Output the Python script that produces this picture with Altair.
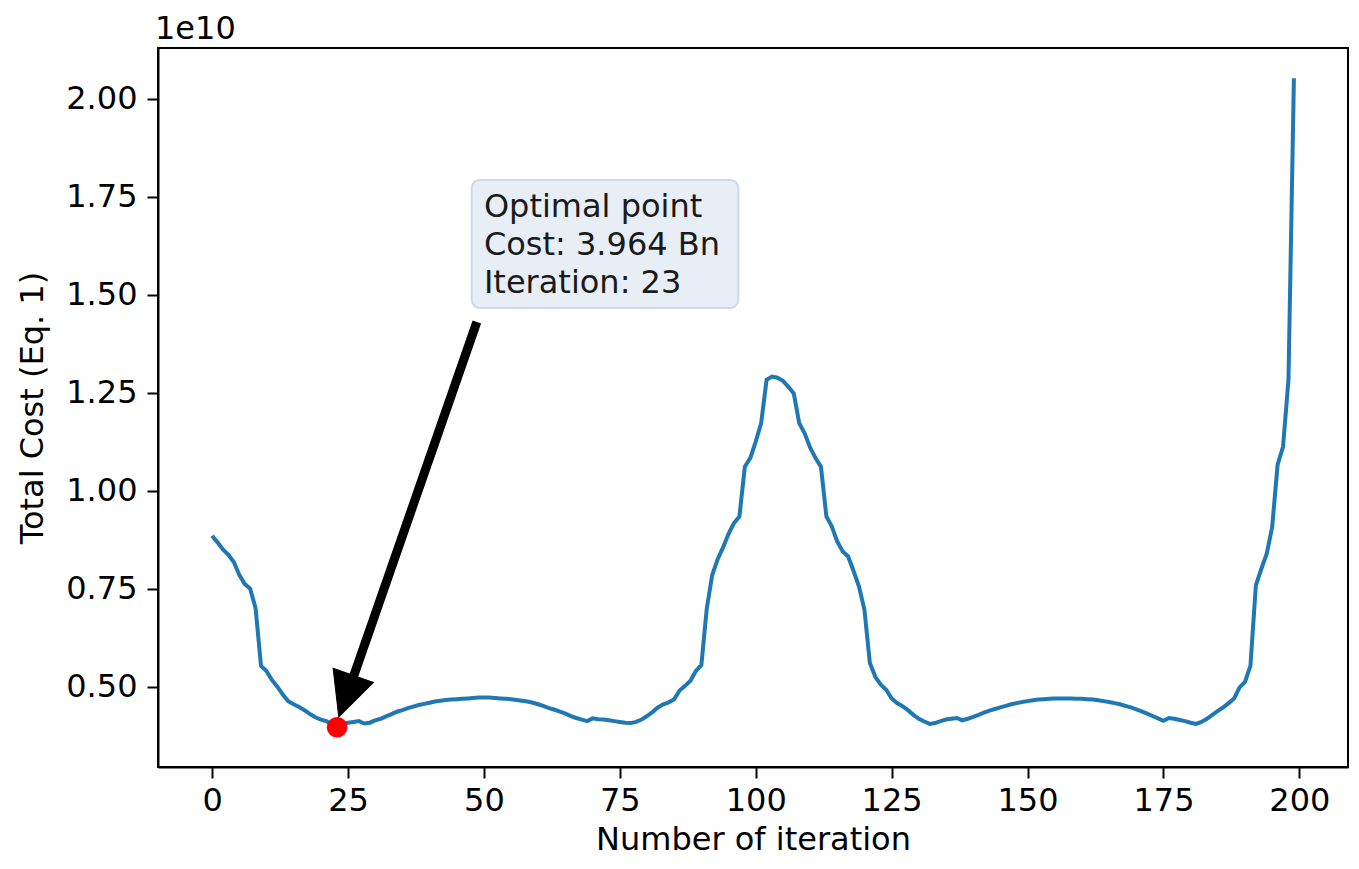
import altair as alt
import pandas as pd

# ---- data (cost in units of 1e10) ----
iterations = list(range(200))
cost_1e10 = [
    0.885, 0.868, 0.850, 0.836, 0.818, 0.785, 0.762, 0.750, 0.700, 0.553,
    0.540, 0.517, 0.500, 0.480, 0.463, 0.455, 0.448, 0.440, 0.430, 0.422,
    0.416, 0.412, 0.405, 0.3964, 0.405, 0.408, 0.410, 0.412, 0.406, 0.408,
    0.414, 0.418, 0.424, 0.430, 0.436, 0.440, 0.445, 0.449, 0.453, 0.456,
    0.459, 0.462, 0.464, 0.466, 0.467, 0.468, 0.469, 0.470, 0.471, 0.472,
    0.472, 0.472, 0.471, 0.470, 0.469, 0.468, 0.466, 0.464, 0.462, 0.459,
    0.455, 0.450, 0.445, 0.441, 0.436, 0.431, 0.425, 0.420, 0.416, 0.412,
    0.419, 0.417, 0.416, 0.414, 0.412, 0.410, 0.408, 0.407, 0.410, 0.416,
    0.425, 0.435, 0.447, 0.455, 0.460, 0.468, 0.490, 0.502, 0.515, 0.540,
    0.555, 0.700, 0.785, 0.825, 0.855, 0.890, 0.917, 0.934, 1.061, 1.083,
    1.125, 1.172, 1.283, 1.291, 1.288, 1.280, 1.265, 1.248, 1.172, 1.146,
    1.110, 1.083, 1.061, 0.934, 0.908, 0.870, 0.845, 0.832, 0.795, 0.755,
    0.696, 0.560, 0.525, 0.505, 0.492, 0.470, 0.458, 0.450, 0.440, 0.428,
    0.418, 0.411, 0.405, 0.407, 0.412, 0.416, 0.418, 0.420, 0.414, 0.418,
    0.423, 0.428, 0.434, 0.439, 0.443, 0.447, 0.451, 0.455, 0.458, 0.461,
    0.463, 0.465, 0.467, 0.468, 0.469, 0.470, 0.470, 0.470, 0.470, 0.469,
    0.469, 0.468, 0.467, 0.465, 0.463, 0.461, 0.458, 0.455, 0.451, 0.447,
    0.442, 0.437, 0.431, 0.425, 0.419, 0.413, 0.420, 0.418, 0.415, 0.412,
    0.408, 0.405, 0.410, 0.418, 0.428, 0.438, 0.447, 0.458, 0.470, 0.498,
    0.512, 0.553, 0.758, 0.800, 0.839, 0.907, 1.066, 1.112, 1.283, 2.052,
]

x_ticks = [0, 25, 50, 75, 100, 125, 150, 175, 200]
y_ticks = [0.50, 0.75, 1.00, 1.25, 1.50, 1.75, 2.00]
x_domain = [-9.95, 208.95]
y_domain = [0.295, 2.129]

opt_iter = [23]
opt_cost = [0.3964]

note_lines = ["Optimal point", "Cost: 3.964 Bn", "Iteration: 23"]
note_xy = [50, 1.699]          # first text baseline (data units)
box_x = [47.75, 96.8]
box_y = [1.466, 1.7926]
arrow_tail = [48.7, 1.43]
arrow_base = [26.08, 0.5286]
arrow_tip = [23.3, 0.4227]
arrow_angle = 19.26

FONT = "DejaVu Sans"
FS = 32

xs = alt.Scale(domain=x_domain, nice=False, zero=False)
ys = alt.Scale(domain=y_domain, nice=False, zero=False)

df = pd.DataFrame({"x": iterations, "y": cost_1e10})

x_axis = alt.Axis(values=x_ticks, title="Number of iteration", grid=False,
                  labelFontSize=FS, titleFontSize=FS, labelFont=FONT, titleFont=FONT,
                  tickSize=11, tickWidth=2, tickColor="black", domainColor="black",
                  domainWidth=2, labelPadding=7, titlePadding=8,
                  labelColor="black", titleColor="black", titleFontWeight="normal")
y_axis = alt.Axis(values=y_ticks, title="Total Cost (Eq. 1)", grid=False, format=".2f",
                  labelFontSize=FS, titleFontSize=FS, labelFont=FONT, titleFont=FONT,
                  tickSize=11, tickWidth=2, tickColor="black", domainColor="black",
                  domainWidth=2, labelPadding=10, titlePadding=16,
                  labelColor="black", titleColor="black", titleFontWeight="normal")

line = alt.Chart(df).mark_line(color="#1f77b4", strokeWidth=4).encode(
    x=alt.X("x:Q", scale=xs, axis=x_axis),
    y=alt.Y("y:Q", scale=ys, axis=y_axis),
)

pt = alt.Chart(pd.DataFrame({"x": opt_iter, "y": opt_cost})).mark_circle(
    color="red", size=430, opacity=1).encode(
    x=alt.X("x:Q", scale=xs), y=alt.Y("y:Q", scale=ys))

box = alt.Chart(pd.DataFrame({"x": [box_x[0]], "x2": [box_x[1]],
                              "y": [box_y[0]], "y2": [box_y[1]]})).mark_rect(
    fill="#e8eef5", stroke="#cfd9e4", strokeWidth=2, cornerRadius=8).encode(
    x=alt.X("x:Q", scale=xs), x2="x2:Q", y=alt.Y("y:Q", scale=ys), y2="y2:Q")

note = alt.Chart(pd.DataFrame({"x": [note_xy[0]], "y": [note_xy[1]]})).mark_text(
    text=note_lines, align="left", baseline="alphabetic", font=FONT, fontSize=FS,
    lineHeight=38, color="#1a1a1a").encode(
    x=alt.X("x:Q", scale=xs), y=alt.Y("y:Q", scale=ys))

shaft = alt.Chart(pd.DataFrame({"x": [arrow_tail[0]], "x2": [arrow_base[0]],
                                "y": [arrow_tail[1]], "y2": [arrow_base[1]]})).mark_rule(
    color="black", strokeWidth=9).encode(
    x=alt.X("x:Q", scale=xs), x2="x2:Q", y=alt.Y("y:Q", scale=ys), y2="y2:Q")

head = alt.Chart(pd.DataFrame({"x": [arrow_tip[0]], "y": [arrow_tip[1]]})).mark_point(
    shape="M0,0 L-0.97,-2 L0.97,-2 Z", size=1936, filled=True, fill="black",
    stroke="black", strokeWidth=1, opacity=1, angle=arrow_angle).encode(
    x=alt.X("x:Q", scale=xs), y=alt.Y("y:Q", scale=ys))

exp_label = alt.Chart(pd.DataFrame({"t": ["1e10"]})).mark_text(
    align="left", baseline="alphabetic", font=FONT, fontSize=FS, color="black").encode(
    x=alt.value(-3), y=alt.value(-9), text="t:N")

chart = alt.layer(line, pt, box, note, shaft, head, exp_label).properties(
    width=1190, height=719,
    autosize=alt.AutoSizeParams(type="none"),
    padding={"left": 150, "top": 40, "right": 3, "bottom": 94},
).configure(
    background="white",
    view=alt.ViewConfig(stroke="black", strokeWidth=2),
)

chart.save("out.html", embed_options={"renderer": "svg", "actions": False})
